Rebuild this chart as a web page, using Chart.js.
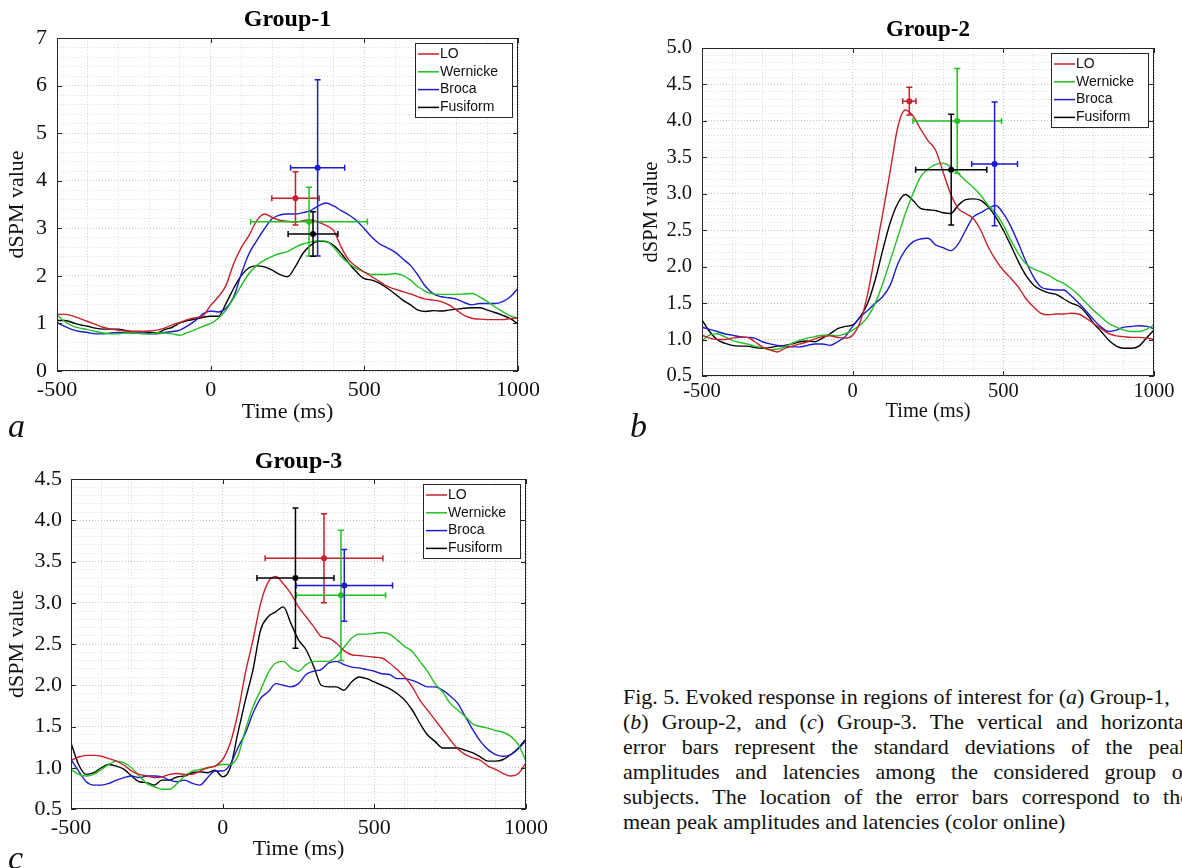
<!DOCTYPE html>
<html>
<head>
<meta charset="utf-8">
<script src="https://cdn.jsdelivr.net/npm/chart.js@4.4.1/dist/chart.umd.min.js"></script>
<style>
  body { margin: 0; width: 1182px; height: 868px; overflow: hidden; background: #fff; position: relative; font-family: 'Liberation Serif', serif; color: #111; }
  .panel { position: absolute; }
  .letter { position: absolute; font-style: italic; font-size: 34px; line-height: 34px; }
  #caption { position: absolute; left: 623px; top: 684px; width: 567px; font-size: 22px; line-height: 25px; }
  #caption div { text-align: justify; text-align-last: justify; white-space: nowrap; }
  #caption div.first, #caption div.last { text-align: left; text-align-last: left; }
</style>
</head>
<body>
<div class="panel" style="left:0;top:0"><canvas id="g1" width="560" height="425"></canvas></div>
<div class="panel" style="left:628px;top:0"><canvas id="g2" width="554" height="425"></canvas></div>
<div class="panel" style="left:0;top:440px"><canvas id="g3" width="560" height="423"></canvas></div>

<div class="letter" style="left:8px;top:409px">a</div>
<div class="letter" style="left:630px;top:409px">b</div>
<div class="letter" style="left:8px;top:841px">c</div>

<div id="caption">
  <div class="first">Fig. 5. Evoked response in regions of interest for (<i>a</i>) Group-1,</div>
  <div>(<i>b</i>) Group-2, and (<i>c</i>) Group-3. The vertical and horizontal</div>
  <div>error bars represent the standard deviations of the peak</div>
  <div>amplitudes and latencies among the considered group of</div>
  <div>subjects. The location of the error bars correspond to the</div>
  <div class="last">mean peak amplitudes and latencies (color online)</div>
</div>

<script>
const times = [-500, -475, -450, -425, -400, -375, -350, -325, -300, -275, -250, -225, -200, -175, -150, -125,
  -100, -75, -50, -25, 0, 25, 50, 75, 100, 125, 150, 175, 200, 225, 250, 275,
  300, 325, 350, 375, 400, 425, 450, 475, 500, 525, 550, 575, 600, 625, 650, 675,
  700, 725, 750, 775, 800, 825, 850, 875, 900, 925, 950, 975, 1000];

const roiNames = ['LO', 'Wernicke', 'Broca', 'Fusiform'];
const roiColors = ['#c8202a', '#22c022', '#1c1cd0', '#000000'];

const xTickLabels = [-500, 0, 500, 1000];
const g1YTicks = [0, 1, 2, 3, 4, 5, 6, 7];
const g2YTicks = [0.5, 1.0, 1.5, 2.0, 2.5, 3.0, 3.5, 4.0, 4.5, 5.0];
const g3YTicks = [0.5, 1.0, 1.5, 2.0, 2.5, 3.0, 3.5, 4.0, 4.5];

// Group-1
const g1LO = [1.19, 1.19, 1.16, 1.10, 1.04, 0.98, 0.92, 0.88, 0.86, 0.84, 0.83, 0.83, 0.84, 0.86, 0.90, 0.97,
  1.02, 1.08, 1.12, 1.16, 1.38, 1.56, 1.80, 2.26, 2.60, 2.85, 3.16, 3.30, 3.23, 3.17, 3.15, 3.13,
  3.16, 3.18, 3.13, 3.06, 2.95, 2.60, 2.33, 2.19, 2.08, 1.98, 1.88, 1.78, 1.72, 1.67, 1.62, 1.56,
  1.51, 1.49, 1.46, 1.39, 1.28, 1.17, 1.11, 1.09, 1.08, 1.08, 1.08, 1.10, 1.12];
const g1Wer = [1.18, 1.04, 0.95, 0.90, 0.87, 0.83, 0.80, 0.78, 0.78, 0.80, 0.80, 0.78, 0.78, 0.80, 0.80, 0.78,
  0.75, 0.81, 0.87, 0.94, 1.00, 1.11, 1.28, 1.53, 1.80, 2.05, 2.22, 2.33, 2.41, 2.47, 2.51, 2.60,
  2.67, 2.71, 2.74, 2.73, 2.60, 2.40, 2.26, 2.15, 2.08, 2.03, 2.03, 2.03, 2.05, 2.01, 1.91, 1.77,
  1.67, 1.62, 1.61, 1.61, 1.61, 1.62, 1.63, 1.56, 1.46, 1.35, 1.25, 1.16, 1.11];
const g1Bro = [1.02, 0.94, 0.87, 0.83, 0.81, 0.78, 0.78, 0.80, 0.81, 0.81, 0.80, 0.80, 0.78, 0.78, 0.81, 0.83,
  0.86, 0.95, 1.06, 1.20, 1.26, 1.24, 1.32, 1.56, 2.05, 2.47, 2.74, 2.99, 3.20, 3.28, 3.30, 3.30,
  3.33, 3.37, 3.47, 3.53, 3.47, 3.37, 3.28, 3.16, 2.99, 2.81, 2.67, 2.59, 2.50, 2.36, 2.22, 2.01,
  1.77, 1.62, 1.56, 1.54, 1.51, 1.44, 1.39, 1.42, 1.42, 1.42, 1.46, 1.56, 1.74];
const g1Fus = [1.06, 1.06, 1.02, 0.97, 0.94, 0.90, 0.88, 0.88, 0.88, 0.85, 0.83, 0.83, 0.81, 0.80, 0.87, 0.92,
  1.01, 1.06, 1.09, 1.13, 1.15, 1.15, 1.42, 1.74, 2.01, 2.17, 2.21, 2.19, 2.12, 2.03, 1.98, 2.19,
  2.47, 2.64, 2.73, 2.72, 2.64, 2.47, 2.26, 2.08, 1.94, 1.91, 1.84, 1.74, 1.62, 1.49, 1.39, 1.28,
  1.25, 1.27, 1.26, 1.28, 1.30, 1.32, 1.33, 1.33, 1.28, 1.23, 1.17, 1.10, 0.99];
const g1PeakLat = [276, 320, 348, 333];
const g1PeakAmp = [3.63, 3.14, 4.27, 2.88];
const g1LatSd = [77, 190, 88, 81];
const g1AmpSd = [0.56, 0.72, 1.85, 0.47];

// Group-2
const g2LO = [1.06, 1.02, 1.00, 1.00, 1.02, 1.03, 1.03, 0.97, 0.90, 0.86, 0.83, 0.88, 0.91, 0.94, 0.97, 1.01,
  1.04, 1.05, 1.03, 1.02, 1.06, 1.24, 1.63, 2.18, 2.73, 3.32, 3.92, 4.15, 4.07, 3.89, 3.73, 3.60,
  3.30, 3.00, 2.80, 2.73, 2.66, 2.50, 2.27, 2.09, 1.95, 1.84, 1.72, 1.56, 1.45, 1.36, 1.34, 1.35,
  1.35, 1.36, 1.35, 1.29, 1.22, 1.15, 1.08, 1.05, 1.04, 1.03, 1.03, 1.02, 1.00];
const g2Wer = [0.99, 1.06, 1.08, 1.04, 0.99, 0.96, 0.94, 0.91, 0.89, 0.86, 0.87, 0.90, 0.95, 0.99, 1.02, 1.04,
  1.06, 1.06, 1.05, 1.08, 1.13, 1.20, 1.31, 1.50, 1.77, 2.09, 2.41, 2.73, 3.00, 3.23, 3.34, 3.40,
  3.42, 3.37, 3.28, 3.18, 3.09, 2.98, 2.84, 2.73, 2.57, 2.36, 2.18, 2.04, 1.97, 1.93, 1.88, 1.82,
  1.77, 1.70, 1.61, 1.50, 1.40, 1.31, 1.22, 1.17, 1.13, 1.11, 1.11, 1.14, 1.20];
const g2Bro = [1.17, 1.14, 1.11, 1.08, 1.06, 1.04, 1.03, 1.02, 0.97, 0.94, 0.92, 0.91, 0.90, 0.90, 0.92, 0.94,
  0.94, 0.92, 0.97, 1.04, 1.18, 1.31, 1.40, 1.50, 1.59, 1.75, 2.04, 2.23, 2.34, 2.38, 2.39, 2.30,
  2.26, 2.22, 2.31, 2.50, 2.68, 2.74, 2.80, 2.84, 2.73, 2.55, 2.32, 2.07, 1.86, 1.72, 1.69, 1.68,
  1.68, 1.60, 1.50, 1.39, 1.27, 1.17, 1.11, 1.13, 1.17, 1.18, 1.19, 1.18, 1.15];
const g2Fus = [1.27, 1.11, 1.00, 0.95, 0.92, 0.91, 0.91, 0.89, 0.88, 0.89, 0.91, 0.92, 0.94, 0.97, 0.98, 0.97,
  1.02, 1.08, 1.15, 1.18, 1.20, 1.31, 1.50, 1.82, 2.23, 2.61, 2.87, 2.99, 2.91, 2.80, 2.78, 2.77,
  2.74, 2.73, 2.84, 2.92, 2.93, 2.91, 2.82, 2.68, 2.50, 2.29, 2.07, 1.88, 1.75, 1.68, 1.64, 1.62,
  1.56, 1.50, 1.46, 1.36, 1.22, 1.11, 0.99, 0.91, 0.88, 0.88, 0.91, 1.02, 1.13];
const g2PeakLat = [188, 347, 471, 327];
const g2PeakAmp = [4.27, 4.00, 3.41, 3.33];
const g2LatSd = [22, 147, 76, 118];
const g2AmpSd = [0.19, 0.72, 0.85, 0.76];

// Group-3
const g3LO = [1.09, 1.13, 1.15, 1.15, 1.14, 1.11, 1.08, 1.03, 0.96, 0.92, 0.90, 0.88, 0.89, 0.92, 0.93, 0.92,
  0.92, 0.96, 1.00, 1.02, 1.10, 1.30, 1.66, 2.15, 2.55, 2.99, 3.25, 3.32, 3.23, 3.11, 2.95, 2.83,
  2.71, 2.59, 2.57, 2.51, 2.42, 2.37, 2.36, 2.35, 2.34, 2.33, 2.27, 2.19, 2.10, 1.98, 1.82, 1.70,
  1.58, 1.46, 1.34, 1.23, 1.16, 1.12, 1.09, 1.02, 0.98, 0.93, 0.90, 0.93, 1.06];
const g3Wer = [0.98, 0.92, 0.90, 0.92, 0.98, 1.04, 1.08, 1.06, 1.00, 0.90, 0.81, 0.77, 0.74, 0.74, 0.81, 0.90,
  0.96, 0.98, 1.00, 1.02, 1.04, 1.04, 1.14, 1.46, 1.74, 1.94, 2.15, 2.27, 2.29, 2.21, 2.17, 2.25,
  2.29, 2.29, 2.29, 2.35, 2.46, 2.57, 2.62, 2.62, 2.63, 2.64, 2.62, 2.55, 2.47, 2.41, 2.29, 2.17,
  2.02, 1.92, 1.78, 1.70, 1.62, 1.53, 1.50, 1.48, 1.45, 1.43, 1.38, 1.28, 1.08];
const g3Bro = [1.10, 0.96, 0.83, 0.79, 0.79, 0.81, 0.85, 0.88, 0.90, 0.88, 0.90, 0.90, 0.89, 0.85, 0.83, 0.85,
  0.81, 0.79, 0.88, 0.96, 0.96, 1.04, 1.24, 1.42, 1.66, 1.84, 1.92, 2.02, 2.00, 1.98, 2.02, 2.13,
  2.17, 2.19, 2.27, 2.29, 2.25, 2.22, 2.21, 2.19, 2.17, 2.14, 2.13, 2.08, 2.08, 2.06, 2.02, 1.98,
  1.98, 1.94, 1.87, 1.78, 1.62, 1.46, 1.32, 1.22, 1.16, 1.14, 1.16, 1.23, 1.33];
const g3Fus = [1.30, 1.04, 0.92, 0.94, 1.00, 1.04, 1.02, 0.98, 0.90, 0.83, 0.82, 0.79, 0.85, 0.85, 0.89, 0.90,
  0.94, 0.95, 0.94, 0.97, 0.89, 1.00, 1.42, 1.82, 2.19, 2.67, 2.83, 2.89, 2.95, 2.75, 2.55, 2.43,
  2.23, 2.00, 1.98, 1.98, 1.94, 2.04, 2.10, 2.08, 2.04, 2.00, 1.96, 1.90, 1.82, 1.70, 1.54, 1.40,
  1.32, 1.24, 1.24, 1.24, 1.21, 1.18, 1.13, 1.08, 1.08, 1.10, 1.16, 1.24, 1.35];
const g3PeakLat = [334, 390, 401, 240];
const g3PeakAmp = [3.54, 3.09, 3.21, 3.30];
const g3LatSd = [194, 147, 159, 127];
const g3AmpSd = [0.54, 0.79, 0.435, 0.85];

const SERIF = "'Liberation Serif', 'Times New Roman', serif";
const SANS = "'Liberation Sans', Arial, sans-serif";
const AXIS = '#262626';

function isIn(list, v) {
    return list.some(t => Math.abs(t - v) < 1e-6);
}

// error bars, box, inner ticks, legend and title
const panelDecor = {
    id: 'panelDecor',
    afterDatasetsDraw(chart, args, o) {
        const { ctx, chartArea: a, scales: { x, y } } = chart;

        ctx.save();
        ctx.beginPath();
        ctx.rect(a.left, a.top, a.right - a.left, a.bottom - a.top);
        ctx.clip();
        o.lat.forEach((t, i) => {
            const v = o.amp[i];
            const px = x.getPixelForValue(t), py = y.getPixelForValue(v);
            const x0 = x.getPixelForValue(t - o.latSd[i]), x1 = x.getPixelForValue(t + o.latSd[i]);
            const y0 = y.getPixelForValue(v - o.ampSd[i]), y1 = y.getPixelForValue(v + o.ampSd[i]);
            ctx.strokeStyle = roiColors[i];
            ctx.fillStyle = roiColors[i];
            ctx.lineWidth = 1.5;
            ctx.beginPath();
            ctx.moveTo(x0, py); ctx.lineTo(x1, py);
            ctx.moveTo(px, y0); ctx.lineTo(px, y1);
            ctx.moveTo(x0, py - 3); ctx.lineTo(x0, py + 3);
            ctx.moveTo(x1, py - 3); ctx.lineTo(x1, py + 3);
            ctx.moveTo(px - 3, y0); ctx.lineTo(px + 3, y0);
            ctx.moveTo(px - 3, y1); ctx.lineTo(px + 3, y1);
            ctx.stroke();
            ctx.beginPath();
            ctx.arc(px, py, 3, 0, Math.PI * 2);
            ctx.fill();
        });
        ctx.restore();

        // box and inner major ticks
        ctx.save();
        ctx.strokeStyle = AXIS;
        ctx.lineWidth = 1;
        ctx.strokeRect(a.left + 0.5, a.top + 0.5, a.right - a.left - 1, a.bottom - a.top - 1);
        ctx.beginPath();
        xTickLabels.forEach(t => {
            const px = Math.round(x.getPixelForValue(t)) + 0.5;
            ctx.moveTo(px, a.bottom); ctx.lineTo(px, a.bottom - 5);
            ctx.moveTo(px, a.top); ctx.lineTo(px, a.top + 5);
        });
        o.yTicks.forEach(v => {
            const py = Math.round(y.getPixelForValue(v)) + 0.5;
            ctx.moveTo(a.left, py); ctx.lineTo(a.left + 5, py);
            ctx.moveTo(a.right, py); ctx.lineTo(a.right - 5, py);
        });
        ctx.stroke();

        // legend
        const lw = 97, lh = 74;
        const lx = Math.round(a.right - 6 - lw), ly = Math.round(a.top + 5);
        ctx.fillStyle = '#fff';
        ctx.fillRect(lx, ly, lw, lh);
        ctx.strokeStyle = AXIS;
        ctx.strokeRect(lx + 0.5, ly + 0.5, lw, lh);
        ctx.font = '14px ' + SANS;
        ctx.textBaseline = 'middle';
        ctx.textAlign = 'left';
        roiNames.forEach((n, i) => {
            const ry = ly + 11 + i * 17.8;
            ctx.strokeStyle = roiColors[i];
            ctx.lineWidth = 1.5;
            ctx.beginPath();
            ctx.moveTo(lx + 3, ry); ctx.lineTo(lx + 24, ry);
            ctx.stroke();
            ctx.fillStyle = '#111';
            ctx.fillText(n, lx + 25, ry);
        });

        // title
        ctx.font = 'bold ' + o.titleSize + 'px ' + SERIF;
        ctx.textAlign = 'center';
        ctx.fillStyle = '#000';
        ctx.fillText(o.title, (a.left + a.right) / 2, a.top - o.titleOff);
        ctx.restore();
    }
};

function makePanel(id, series, p) {
    const datasets = series.map((arr, i) => ({
        label: roiNames[i],
        data: times.map((t, k) => ({ x: t, y: arr[k] })),
        borderColor: roiColors[i],
        borderWidth: 1.4,
        pointRadius: 0,
        fill: false,
        cubicInterpolationMode: 'monotone'
    }));
    const tickFont = { family: SERIF, size: p.fs };
    new Chart(document.getElementById(id), {
        type: 'line',
        data: { datasets: datasets },
        plugins: [panelDecor],
        options: {
            responsive: false,
            animation: false,
            events: [],
            layout: { padding: { left: 0, top: p.top, right: p.right, bottom: 0 } },
            scales: {
                x: {
                    type: 'linear',
                    min: -500,
                    max: 1000,
                    afterFit: s => { s.height = p.xAxisH; s.paddingLeft = 0; s.paddingRight = 0; },
                    ticks: {
                        stepSize: 100,
                        autoSkip: false,
                        maxRotation: 0,
                        padding: p.xTickPad,
                        color: '#111',
                        font: tickFont,
                        callback: v => isIn(xTickLabels, v) ? String(v) : ''
                    },
                    grid: {
                        drawTicks: false,
                        color: c => isIn(xTickLabels, c.tick.value) ? '#c4c4c4' : '#dcdcdc'
                    },
                    border: { display: false, dash: [1, 2] },
                    title: { display: true, text: 'Time (ms)', color: '#111', font: tickFont, padding: { top: 0, bottom: p.xTitlePad } }
                },
                y: {
                    min: p.yMin,
                    max: p.yMax,
                    afterFit: s => { s.width = p.yAxisW; },
                    ticks: {
                        stepSize: p.yMinor,
                        autoSkip: false,
                        padding: p.yTickPad,
                        color: '#111',
                        font: tickFont,
                        callback: v => isIn(p.yTicks, v) ? v.toFixed(p.dec) : ''
                    },
                    grid: {
                        drawTicks: false,
                        color: c => isIn(p.yTicks, c.tick.value) ? '#c4c4c4' : '#dcdcdc'
                    },
                    border: { display: false, dash: [1, 2] },
                    title: { display: true, text: 'dSPM value', color: '#111', font: tickFont, padding: { top: p.yTitlePad, bottom: 0 } }
                }
            },
            plugins: {
                legend: { display: false },
                tooltip: { enabled: false },
                panelDecor: {
                    title: p.title, titleSize: p.titleSize, titleOff: p.titleOff,
                    yTicks: p.yTicks,
                    lat: p.lat, amp: p.amp, latSd: p.latSd, ampSd: p.ampSd
                }
            }
        }
    });
}

document.addEventListener('DOMContentLoaded', function() {
    makePanel('g1', [g1LO, g1Wer, g1Bro, g1Fus], {
        title: 'Group-1', titleSize: 24, titleOff: 18,
        fs: 22, top: 38, right: 42, xAxisH: 54, yAxisW: 57,
        xTickPad: 6, xTitlePad: 0, yTickPad: 10, yTitlePad: 4,
        yMin: 0, yMax: 7, yMinor: 0.2, yTicks: g1YTicks, dec: 0,
        lat: g1PeakLat, amp: g1PeakAmp, latSd: g1LatSd, ampSd: g1AmpSd
    });
    makePanel('g2', [g2LO, g2Wer, g2Bro, g2Fus], {
        title: 'Group-2', titleSize: 23, titleOff: 18,
        fs: 20.5, top: 48, right: 28, xAxisH: 49, yAxisW: 74,
        xTickPad: 3, xTitlePad: 1, yTickPad: 10, yTitlePad: 11,
        yMin: 0.5, yMax: 5, yMinor: 0.1, yTicks: g2YTicks, dec: 1,
        lat: g2PeakLat, amp: g2PeakAmp, latSd: g2LatSd, ampSd: g2AmpSd
    });
    makePanel('g3', [g3LO, g3Wer, g3Bro, g3Fus], {
        title: 'Group-3', titleSize: 24, titleOff: 17,
        fs: 22, top: 39, right: 34, xAxisH: 54, yAxisW: 71,
        xTickPad: 6, xTitlePad: 1, yTickPad: 9, yTitlePad: 4,
        yMin: 0.5, yMax: 4.5, yMinor: 0.1, yTicks: g3YTicks, dec: 1,
        lat: g3PeakLat, amp: g3PeakAmp, latSd: g3LatSd, ampSd: g3AmpSd
    });
});
</script>
</body>
</html>
